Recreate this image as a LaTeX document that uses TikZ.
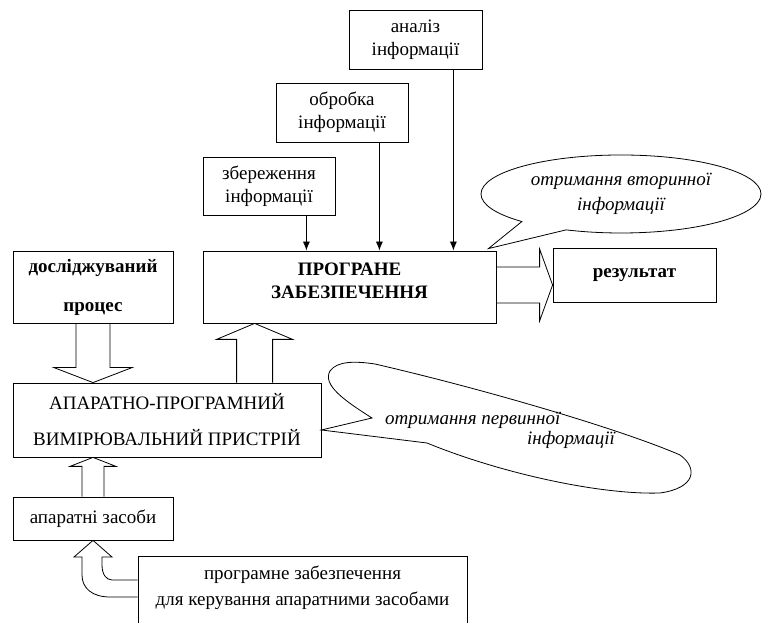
\documentclass[tikz,border=0pt]{standalone}
\usepackage{fontspec}
\setmainfont{Liberation Serif}
\usetikzlibrary{arrows.meta,shapes.callouts,calc}

\newcommand{\txtsize}{\fontsize{19}{23}\selectfont}
\tikzset{
  box/.style={draw, line width=0.8pt, inner sep=0pt, align=center, font=\txtsize},
  boldbox/.style={box, font=\txtsize\bfseries},
  blockarr/.style={draw, line width=0.8pt, line join=miter},
  infotext/.style={font=\txtsize\itshape, inner sep=0pt},
  bubble/.style={ellipse callout, draw, line width=0.8pt, infotext, align=center,
    callout pointer arc=22},
}

\begin{document}
\begin{tikzpicture}[x=1pt,y=1pt]
  \useasboundingbox (0,0) rectangle (763,623);
  \clip (0,0) rectangle (763,623);
  \draw
    (415.5,583.5) node[box,minimum width=133pt,minimum height=59pt] (analiz) {аналіз\\інформації}
    (342,510.5) node[box,minimum width=132pt,minimum height=59pt] (obrobka) {обробка\\інформації}
    (269,437) node[box,minimum width=132pt,minimum height=58pt] (zberezh) {збереження\\інформації}
    (349.5,336) node[boldbox,minimum width=293pt,minimum height=72pt] (progr) {ПРОГРАНЕ\\ЗАБЕЗПЕЧЕННЯ\rule[-13pt]{0pt}{13pt}}
    (93,336) node[boldbox,minimum width=160pt,minimum height=72pt] (doslid) {досліджуваний\\[16pt]процес}
    (634.5,348) node[boldbox,minimum width=163pt,minimum height=54pt] (rezult) {результат}
    (167,203) node[box,minimum width=308pt,minimum height=74pt] (aparat) {АПАРАТНО-ПРОГРАМНИЙ\\[13pt]ВИМІРЮВАЛЬНИЙ ПРИСТРІЙ}
    (93,104.5) node[box,minimum width=160pt,minimum height=43pt] (hw) {апаратні засоби}
    (302.5,30) node[box,minimum width=329pt,minimum height=74pt] (soft) {програмне забезпечення\\[3pt]для керування апаратними засобами\rule[-14pt]{0pt}{14pt}};

  % callouts
  \node[bubble,minimum width=280pt,minimum height=78pt,
    callout absolute pointer={($(progr.north east)+(-8,2)$)}] (second) at (621,429)
    {отримання вторинної\\[2pt]інформації};
  \draw[line width=0.8pt] ($(aparat.east)+(0,-10)$) -- (372,205)
    .. controls (345,222) and (322,238) .. (330,252)
    .. controls (337,262) and (355,262) .. (375,259)
    .. controls (500,230) and (630,190) .. (680,168)
    .. controls (698,155) and (696,135) .. (660,130)
    .. controls (600,128) and (500,150) .. (427,180) -- cycle;
  \node[infotext,anchor=west,align=left] (first) at (385,193)
    {отримання первинної\\[-3pt]\hspace*{142pt}інформації};

  % thin arrows into the software block
  \begin{scope}[-{Latex[length=9pt,width=7pt]}, line width=0.8pt]
    \foreach \b in {zberezh,obrobka,analiz} {
      \coordinate (from) at ($(\b.south east)+(-29,0)$);
      \draw (from) -- (from |- progr.north);
    }
  \end{scope}

  % block arrows
  \coordinate (down1) at (doslid.south |- aparat.north);
  \draw[blockarr] ($(doslid.south)+(-17,0)$) -- ($(down1)+(-17,15)$) -- ($(down1)+(-39,15)$)
    -- (down1) -- ($(down1)+(39,15)$) -- ($(down1)+(17,15)$) -- ($(doslid.south)+(17,0)$);

  \coordinate (up1) at ($(progr.south west)+(52,0)$);
  \draw[blockarr] ($(up1 |- aparat.north)+(-18,0)$) -- ($(up1)+(-18,-16)$) -- ($(up1)+(-38,-16)$)
    -- (up1) -- ($(up1)+(38,-16)$) -- ($(up1)+(18,-16)$) -- ($(up1 |- aparat.north)+(18,0)$);

  \coordinate (up2) at (hw.north |- aparat.south);
  \draw[blockarr] ($(hw.north)+(-11,0)$) -- ($(up2)+(-11,-9)$) -- ($(up2)+(-23,-9)$)
    -- (up2) -- ($(up2)+(23,-9)$) -- ($(up2)+(11,-9)$) -- ($(hw.north)+(11,0)$);

  \coordinate (right1) at ($(rezult.west |- progr.east)+(0,2)$);
  \draw[blockarr] ($(progr.east)+(0,20)$) -- ($(right1)+(-13,18)$) -- ($(right1)+(-13,36)$)
    -- (right1) -- ($(right1)+(-13,-36)$) -- ($(right1)+(-13,-18)$) -- ($(progr.east)+(0,-16)$);

  \draw[blockarr] ($(soft.west)+(0,13)$) -- (112,43) .. controls (106,43) and (102,49) .. (102,58)
    -- (102,66) -- (112,66) -- (hw.south) -- (74,66) -- (82,66) -- (82,48)
    .. controls (82,35) and (92,26) .. (110,26) -- ($(soft.west)+(0,-4)$);
\end{tikzpicture}
\end{document}
